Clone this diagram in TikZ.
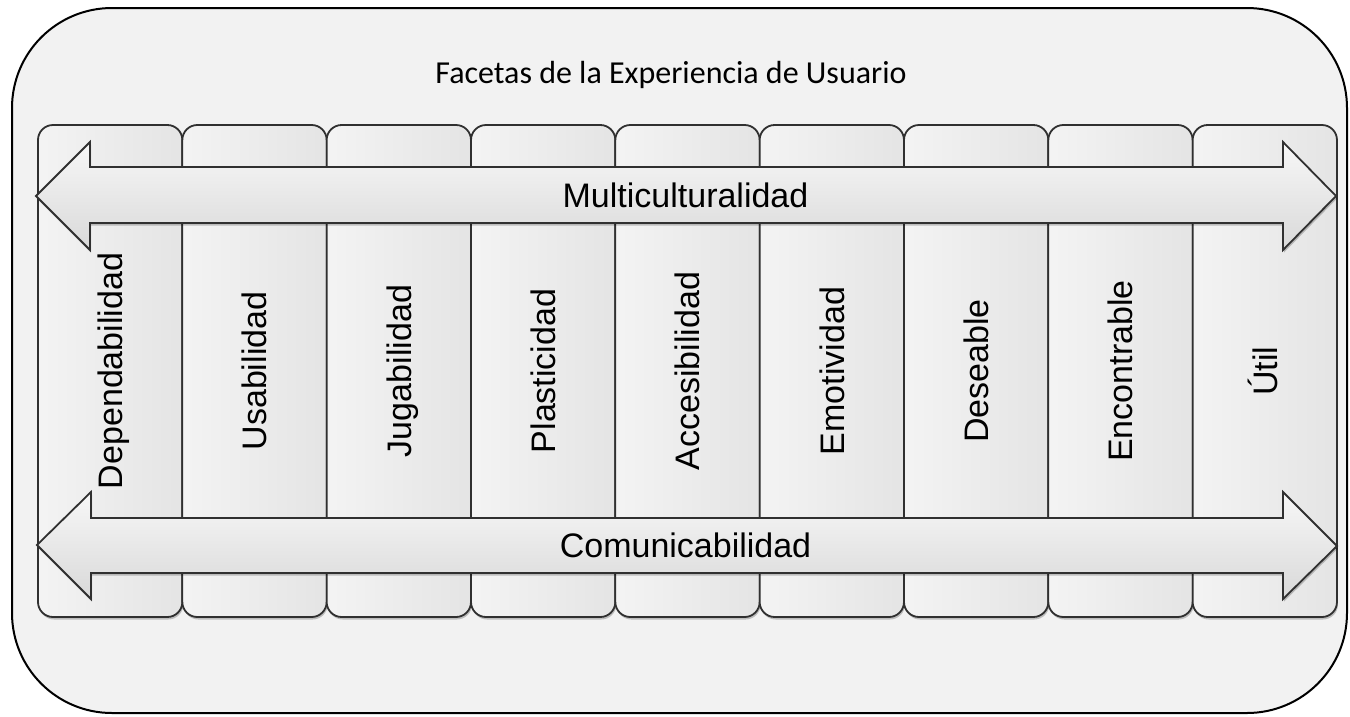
\documentclass[tikz,border=0pt]{standalone}
\usepackage{fontspec}
\newfontfamily\arialf{Liberation Sans}
\newfontfamily\calib{Carlito}
\usetikzlibrary{shadows}
\definecolor{frameFill}{HTML}{F2F2F2}
\definecolor{edge}{HTML}{303030}
\begin{document}
\begin{tikzpicture}[x=1pt,y=-1pt,
  softshadow/.style={drop shadow={shadow xshift=1pt, shadow yshift=-2.5pt, opacity=0.22, fill=black}},
  framebox/.style={draw=black, line width=2pt, fill=frameFill, rounded corners=100pt, minimum width=1335pt, minimum height=705pt, inner sep=0pt},
  colbox/.style={draw=edge, line width=1.8pt, rounded corners=15pt, left color=gray!9, right color=gray!21, minimum width=144.33pt, minimum height=492pt, inner sep=0pt, softshadow},
  lbl/.style={font=\arialf\fontsize{34}{40}\selectfont, text=black, inner sep=0pt},
  collbl/.style={lbl, rotate=90, text height=25pt, text depth=0pt},
  arrowpath/.style={draw=edge, line width=1.8pt, line join=miter, top color=gray!6, bottom color=gray!30, softshadow},
  titlelbl/.style={font=\calib\fontsize{32}{38}\selectfont, text=black, inner sep=0pt, anchor=base},
]
\useasboundingbox (0,0) rectangle (1350,716);
\node[framebox] (frame) at (679.5,360.5) {};
\node[titlelbl] (title) at (671,83) {Facetas de la Experiencia de Usuario};

\foreach \i/\t in {1/Dependabilidad,2/Usabilidad,3/Jugabilidad,4/Plasticidad,5/Accesibilidad,6/Emotividad,7/Deseable,8/Encontrable,9/Útil}{
  \node[colbox] (c\i) at ({38+144.33*(\i-0.5)},371) {};
  \node[collbl] (l\i) at (c\i.center) {\t};
}

% top double arrow
\coordinate (tL)  at (36,196);
\coordinate (tLu) at (90,142);
\coordinate (tLa) at (90,167);
\coordinate (tRa) at (1283,167);
\coordinate (tRu) at (1283,142);
\coordinate (tR)  at (1336,196);
\coordinate (tRd) at (1283,250);
\coordinate (tRb) at (1283,223);
\coordinate (tLb) at (90,223);
\coordinate (tLd) at (90,250);
\path[arrowpath] (tL) -- (tLu) -- (tLa) -- (tRa) -- (tRu) -- (tR) -- (tRd) -- (tRb) -- (tLb) -- (tLd) -- cycle;
\node[lbl, anchor=base] (multi) at (685.5,207) {Multiculturalidad};

% bottom double arrow
\coordinate (bL)  at (37,545);
\coordinate (bLu) at (91,492);
\coordinate (bLa) at (91,518);
\coordinate (bRa) at (1283,518);
\coordinate (bRu) at (1283,492);
\coordinate (bR)  at (1337,546);
\coordinate (bRd) at (1283,599);
\coordinate (bRb) at (1283,573);
\coordinate (bLb) at (91,573);
\coordinate (bLd) at (91,599);
\path[arrowpath] (bL) -- (bLu) -- (bLa) -- (bRa) -- (bRu) -- (bR) -- (bRd) -- (bRb) -- (bLb) -- (bLd) -- cycle;
\node[lbl, anchor=base] (comu) at (685.5,557) {Comunicabilidad};
\end{tikzpicture}
\end{document}
